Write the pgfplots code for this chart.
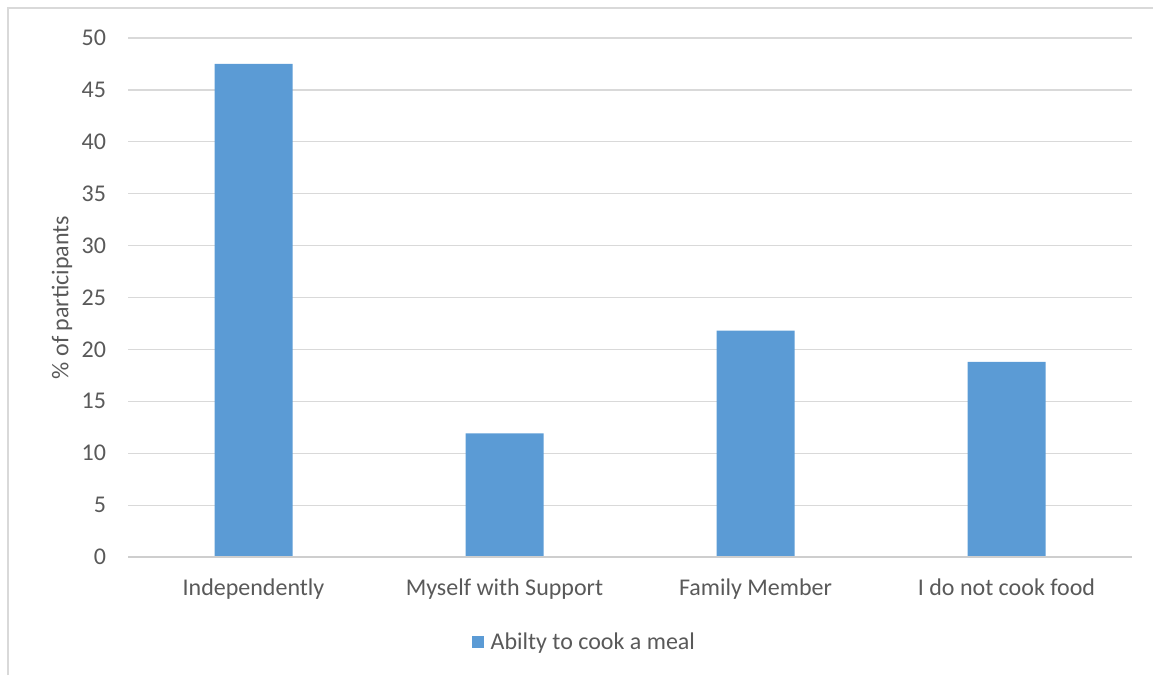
\documentclass[border=0pt]{standalone}
\usepackage{pgfplots}
\pgfplotsset{compat=1.18}
\usepackage{fontspec}
\setmainfont{Carlito}
\definecolor{barblue}{HTML}{5B9BD5}
\definecolor{txtgray}{HTML}{595959}
\definecolor{gridgray}{HTML}{D9D9D9}
\definecolor{framegray}{HTML}{D9D9D9}
\begin{document}
\begin{tikzpicture}[x=0.75pt,y=0.75pt]
\path[use as bounding box] (0,0) rectangle (1153,675);
\draw[framegray, line width=1.2pt] (8,0) -- (8,667) -- (1153,667);
\begin{axis}[
  at={(128*0.75pt,118*0.75pt)}, anchor=south west,
  scale only axis, width=753pt, height=389.25pt,
  xmin=-0.5, xmax=3.5, ymin=0, ymax=50,
  ytick={0,5,...,50},
  xtick={0,1,2,3},
  xticklabels={Independently,Myself with Support,Family Member,I do not cook food},
  major tick length=0pt,
  axis line style={draw=none},
  axis x line*=bottom, axis y line*=left,
  ymajorgrids, grid style={gridgray, line width=0.9pt},
  tick label style={font=\fontsize{18pt}{20pt}\selectfont, text=txtgray},
  /pgf/number format/assume math mode=true,
  yticklabel style={xshift=-13pt},
  xticklabel style={yshift=-13pt},
  ylabel={\% of participants},
  every axis y label/.style={at={(rel axis cs:0,0.5)}, rotate=90, anchor=center, yshift=49.5pt,
    font=\fontsize{18pt}{20pt}\selectfont, text=txtgray},
  legend style={at={(0.455,-0.164)}, anchor=center, draw=none, fill=none,
    font=\fontsize{18pt}{20pt}\selectfont, text=txtgray, inner sep=0pt},
  legend image code/.code={\fill[barblue] (0pt,-4.5pt) rectangle (9pt,4.5pt);},
  legend cell align=left,
  legend style={/tikz/every even column/.append style={column sep=0pt}},
]
\addplot[ybar, bar width=58.5pt, fill=barblue, draw=none] coordinates {(0,47.5) (1,11.9) (2,21.8) (3,18.8)};
\addlegendentry{\hspace{3pt}Abilty to cook a meal}
\draw[color=gridgray!80!black!60, line width=0.9pt] (rel axis cs:0,0) -- (rel axis cs:1,0);
\end{axis}
\end{tikzpicture}
\end{document}
